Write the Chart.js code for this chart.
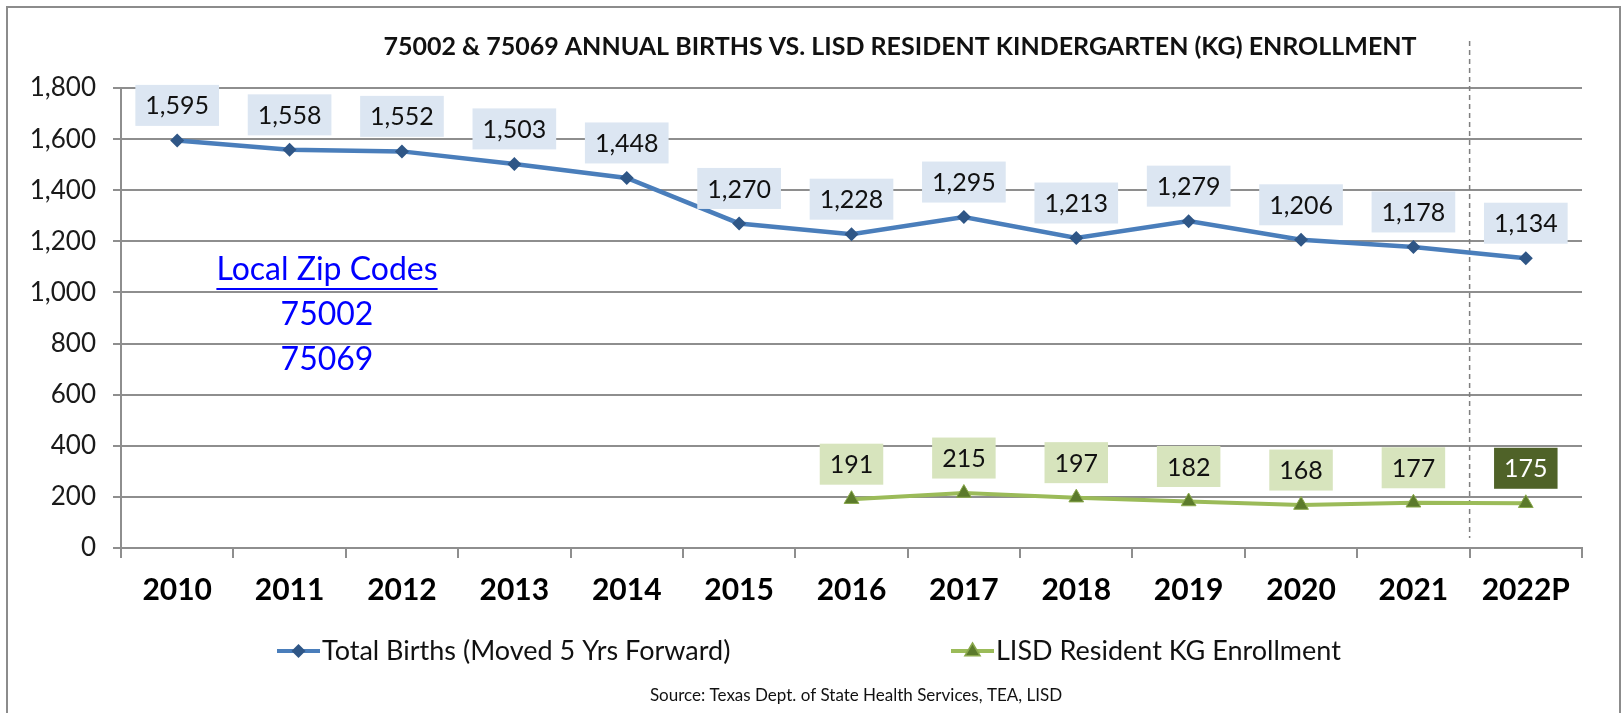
<!DOCTYPE html>
<html>
<head>
<meta charset="utf-8">
<title>75002 &amp; 75069 Annual Births vs. LISD Resident KG Enrollment</title>
<script src="https://cdn.jsdelivr.net/npm/chart.js"></script>
<style>
  html, body { margin: 0; padding: 0; background: #fff; overflow: hidden; }
  #wrap { position: relative; width: 1621px; height: 713px; }
  #frame { position: absolute; left: 6px; top: 6px; width: 1611px; height: 800px;
           border: 2px solid #8c8c8c; pointer-events: none; }
</style>
</head>
<body>
<div id="wrap">
  <canvas id="birthsChart" width="1621" height="713"></canvas>
  <div id="frame"></div>
</div>
<script>
// Chart data
const years = ['2010', '2011', '2012', '2013', '2014', '2015', '2016',
               '2017', '2018', '2019', '2020', '2021', '2022P'];
const totalBirths = [1595, 1558, 1552, 1503, 1448, 1270, 1228, 1295, 1213, 1279, 1206, 1178, 1134];
const kgEnrollment = [null, null, null, null, null, null, 191, 215, 197, 182, 168, 177, 175];
const yTicks = [0, 200, 400, 600, 800, 1000, 1200, 1400, 1600, 1800];

const chartTitle = '75002 & 75069 ANNUAL BIRTHS VS. LISD RESIDENT KINDERGARTEN (KG) ENROLLMENT';
const zipLines = ['Local Zip Codes', '75002', '75069'];
const seriesNames = ['Total Births (Moved 5 Yrs Forward)', 'LISD Resident KG Enrollment'];
const sourceText = 'Source: Texas Dept. of State Health Services, TEA, LISD';

// Colors
const blueLine = '#4a7ebb';
const blueMarker = '#2f5686';
const blueBox = '#dce6f2';
const greenLine = '#9bbb59';
const greenMarker = '#5b7a2b';
const greenBox = '#d7e4bd';
const projBox = '#4f6228';
const gridGray = '#8e8e8e';

const fmt = v => Number(v).toLocaleString('en-US');

Chart.defaults.font.family = 'Lato, "Noto Sans", sans-serif';
Chart.defaults.color = '#1a1a1a';

function drawDiamond(ctx, x, y, r, fill) {
    ctx.beginPath();
    ctx.moveTo(x, y - r);
    ctx.lineTo(x + r, y);
    ctx.lineTo(x, y + r);
    ctx.lineTo(x - r, y);
    ctx.closePath();
    ctx.fillStyle = fill;
    ctx.fill();
}

function drawTriangle(ctx, x, y, r, fill, edge) {
    ctx.beginPath();
    ctx.moveTo(x, y - r);
    ctx.lineTo(x + r * 0.95, y + r * 0.6);
    ctx.lineTo(x - r * 0.95, y + r * 0.6);
    ctx.closePath();
    ctx.fillStyle = fill;
    ctx.fill();
    ctx.lineWidth = 1.5;
    ctx.strokeStyle = edge;
    ctx.stroke();
}

// Extra drawing: title, value boxes, zip note, dashed divider, legend, source
const decorPlugin = {
    id: 'decor',
    beforeDatasetsDraw(chart) {
        const ctx = chart.ctx;
        const x = chart.scales.x;
        const divX = (x.getPixelForValue(11) + x.getPixelForValue(12)) / 2;
        ctx.save();
        ctx.strokeStyle = '#7f7f7f';
        ctx.lineWidth = 1.5;
        ctx.setLineDash([5, 4]);
        ctx.beginPath();
        ctx.moveTo(divX, 41);
        ctx.lineTo(divX, 538);
        ctx.stroke();
        ctx.restore();
    },
    afterDatasetsDraw(chart) {
        const ctx = chart.ctx;
        ctx.save();
        ctx.font = '25px Lato';
        ctx.textAlign = 'center';
        ctx.textBaseline = 'middle';
        chart.data.datasets.forEach((ds, di) => {
            const meta = chart.getDatasetMeta(di);
            meta.data.forEach((pt, i) => {
                const v = ds.data[i];
                if (v === null || v === undefined) return;
                const text = fmt(v);
                const w = ctx.measureText(text).width + 20;
                const h = 41;
                const cy = pt.y - 35;
                let bg = di === 0 ? blueBox : greenBox;
                let fg = '#111';
                if (di === 1 && i === years.length - 1) { bg = projBox; fg = '#fff'; }
                ctx.fillStyle = bg;
                ctx.fillRect(pt.x - w / 2, cy - h / 2, w, h);
                ctx.fillStyle = fg;
                ctx.fillText(text, pt.x, cy + 1);
            });
        });
        ctx.restore();
    },
    afterDraw(chart) {
        const ctx = chart.ctx;
        ctx.save();

        // title
        ctx.fillStyle = '#111';
        ctx.font = 'bold 25px Lato';
        ctx.textAlign = 'center';
        ctx.textBaseline = 'middle';
        ctx.fillText(chartTitle, 900, 47);

        // zip code note
        ctx.fillStyle = '#0000ff';
        ctx.font = '32px Lato';
        const zx = 327;
        ctx.fillText(zipLines[0], zx, 270);
        const uw = ctx.measureText(zipLines[0]).width;
        ctx.fillRect(zx - uw / 2, 288, uw, 2);
        ctx.fillText(zipLines[1], zx, 315);
        ctx.fillText(zipLines[2], zx, 360);

        // legend
        const ly = 651;
        ctx.lineWidth = 4;
        ctx.strokeStyle = blueLine;
        ctx.beginPath(); ctx.moveTo(277, ly); ctx.lineTo(320, ly); ctx.stroke();
        drawDiamond(ctx, 298.5, ly, 7, blueMarker);
        ctx.strokeStyle = greenLine;
        ctx.beginPath(); ctx.moveTo(951, ly); ctx.lineTo(994, ly); ctx.stroke();
        drawTriangle(ctx, 972.5, ly, 8, greenMarker, '#8aa84c');
        ctx.fillStyle = '#111';
        ctx.font = '27px Lato';
        ctx.textAlign = 'left';
        ctx.fillText(seriesNames[0], 322, ly);
        ctx.fillText(seriesNames[1], 996, ly);

        // source
        ctx.font = '17px Lato';
        ctx.textAlign = 'center';
        ctx.fillText(sourceText, 856, 696);
        ctx.restore();
    }
};

const ctx = document.getElementById('birthsChart');
new Chart(ctx.getContext('2d'), {
    type: 'line',
    data: {
        labels: years,
        datasets: [
            {
                label: seriesNames[0],
                data: totalBirths,
                borderColor: blueLine,
                borderWidth: 4.5,
                pointStyle: 'rectRot',
                pointRadius: 7,
                pointBackgroundColor: blueMarker,
                pointBorderColor: blueMarker,
                pointBorderWidth: 0,
                tension: 0
            },
            {
                label: seriesNames[1],
                data: kgEnrollment,
                borderColor: greenLine,
                borderWidth: 4,
                pointStyle: 'triangle',
                pointRadius: 8.5,
                pointBackgroundColor: greenMarker,
                pointBorderColor: '#8aa84c',
                pointBorderWidth: 1,
                tension: 0
            }
        ]
    },
    options: {
        responsive: false,
        animation: false,
        devicePixelRatio: 1,
        layout: {
            padding: { left: 0, right: 39, top: 88, bottom: 0 }
        },
        plugins: {
            legend: { display: false },
            title: { display: false },
            tooltip: { enabled: false }
        },
        scales: {
            x: {
                offset: true,
                grid: {
                    offset: true,
                    drawOnChartArea: false,
                    drawTicks: true,
                    tickLength: 10,
                    color: gridGray,
                    lineWidth: 2
                },
                border: { color: gridGray, width: 2 },
                ticks: {
                    padding: 14,
                    color: '#000',
                    font: { size: 30, weight: 'bold' },
                    maxRotation: 0,
                    autoSkip: false
                },
                afterFit(scale) { scale.height = 165; }
            },
            y: {
                min: yTicks[0],
                max: yTicks[yTicks.length - 1],
                afterBuildTicks(scale) {
                    scale.ticks = yTicks.map(v => ({ value: v }));
                },
                grid: {
                    color: gridGray,
                    lineWidth: 2,
                    tickLength: 8
                },
                border: { color: gridGray, width: 2 },
                ticks: {
                    padding: 17,
                    color: '#1a1a1a',
                    font: { size: 26 },
                    callback: v => fmt(v)
                },
                afterFit(scale) { scale.width = 121; }
            }
        }
    },
    plugins: [decorPlugin]
});
</script>
</body>
</html>
